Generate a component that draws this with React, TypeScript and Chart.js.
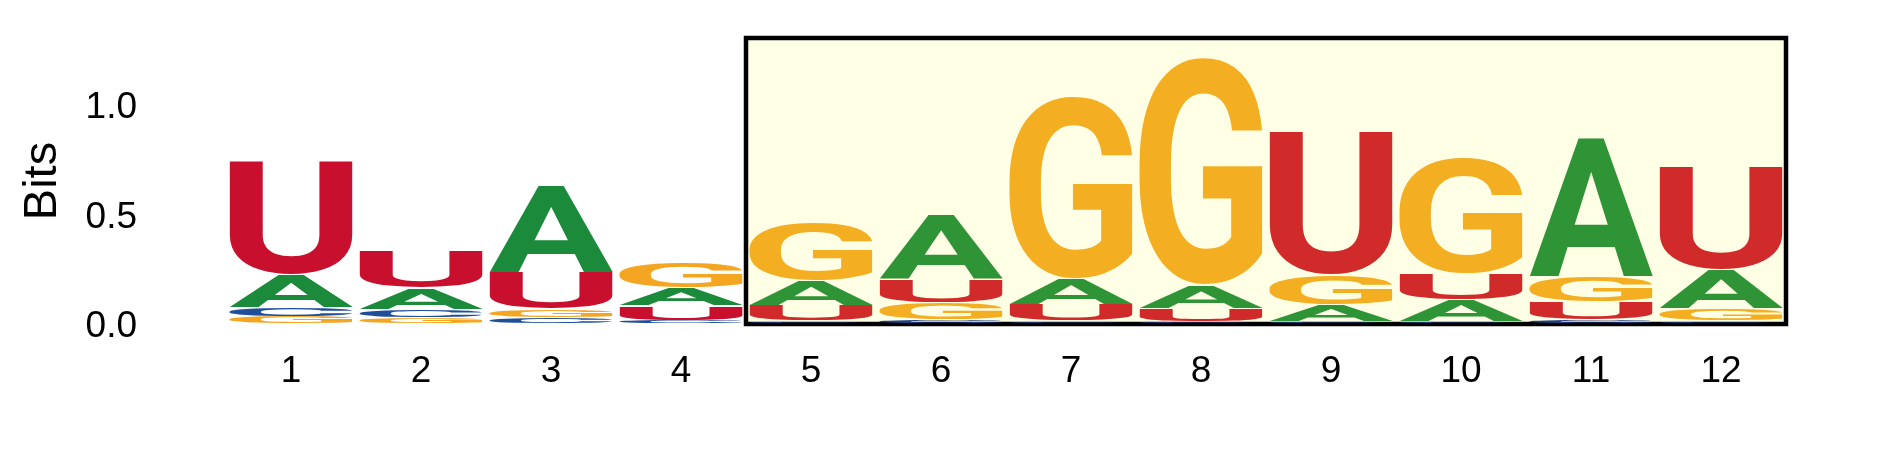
import React, { useEffect, useRef } from 'react';
import { Chart, registerables } from 'chart.js';

Chart.register(...registerables);

// ---- data (bits per nucleotide at each position) ----
const POSITIONS = ['1', '2', '3', '4', '5', '6', '7', '8', '9', '10', '11', '12'];
const BITS_A = [0.151, 0.096, 0.397, 0.082, 0.114, 0.293, 0.118, 0.110, 0.077, 0.100, 0.634, 0.179];
const BITS_C = [0.041, 0.037, 0.027, 0.014, 0.012, 0.015, 0.012, 0.010, 0.010, 0.010, 0.015, 0.012];
const BITS_G = [0.032, 0.027, 0.037, 0.115, 0.265, 0.081, 0.836, 1.041, 0.137, 0.535, 0.115, 0.056];
const BITS_U = [0.520, 0.169, 0.169, 0.068, 0.070, 0.109, 0.075, 0.058, 0.653, 0.118, 0.085, 0.470];
const Y_TICKS = [0, 0.5, 1.0];
const Y_MAX = 1.306;
const HIGHLIGHT_FROM = 5;
const HIGHLIGHT_TO = 12;
const AXIS_TITLE = 'Bits';

const COLORS_OUT: Record<string, string> = { A: '#1B8A3A', C: '#1F4E9A', G: '#F4A623', U: '#C8102E' };
const COLORS_IN: Record<string, string> = { A: '#2F9436', C: '#1F3F80', G: '#F4AE22', U: '#D02A2A' };

const FONT = "'Liberation Sans', Arial, Helvetica, sans-serif";
const LOGO_FONT = "bold 200px Roboto, 'Liberation Sans', sans-serif";

const LETTERS = [
  { ch: 'A', vals: BITS_A },
  { ch: 'C', vals: BITS_C },
  { ch: 'G', vals: BITS_G },
  { ch: 'U', vals: BITS_U },
];

function buildDatasets() {
  const ranked = POSITIONS.map((_, j) =>
    LETTERS.map((l) => ({ ch: l.ch, v: l.vals[j] })).sort((a, b) => a.v - b.v)
  );
  return [0, 1, 2, 3].map((r) => ({
    label: 'rank' + r,
    data: ranked.map((col) => col[r].v),
    letters: ranked.map((col) => col[r].ch),
    backgroundColor: 'rgba(0,0,0,0)',
    borderWidth: 0,
    barPercentage: 0.95,
    categoryPercentage: 1.0,
  }));
}

const highlightPlugin = {
  id: 'highlightBox',
  beforeDatasetsDraw(chart: any) {
    const xs = chart.scales.x;
    const ys = chart.scales.y;
    const half = (xs.getPixelForValue(1) - xs.getPixelForValue(0)) / 2;
    const left = xs.getPixelForValue(HIGHLIGHT_FROM - 1) - half;
    const right = xs.getPixelForValue(HIGHLIGHT_TO - 1) + half;
    const top = ys.getPixelForValue(Y_MAX);
    const bottom = ys.getPixelForValue(0);
    const ctx = chart.ctx;
    ctx.save();
    ctx.fillStyle = '#FFFFE5';
    ctx.fillRect(left, top, right - left, bottom - top);
    ctx.lineWidth = 4.5;
    ctx.strokeStyle = '#000';
    ctx.strokeRect(left, top, right - left, bottom - top);
    ctx.restore();
  },
};

const letterPlugin = {
  id: 'logoLetters',
  afterDatasetsDraw(chart: any) {
    const ctx = chart.ctx;
    ctx.save();
    ctx.font = LOGO_FONT;
    ctx.textAlign = 'left';
    ctx.textBaseline = 'alphabetic';
    chart.data.datasets.forEach((ds: any, di: number) => {
      const meta = chart.getDatasetMeta(di);
      meta.data.forEach((bar: any, j: number) => {
        const ch = ds.letters[j];
        const top = Math.min(bar.y, bar.base);
        const h = Math.abs(bar.base - bar.y) - 1;
        if (h < 0.3) return;
        const w = bar.width;
        const left = bar.x - w / 2;
        const m = ctx.measureText(ch);
        const gw = m.actualBoundingBoxLeft + m.actualBoundingBoxRight;
        const gh = m.actualBoundingBoxAscent + m.actualBoundingBoxDescent;
        const inside = j + 1 >= HIGHLIGHT_FROM && j + 1 <= HIGHLIGHT_TO;
        ctx.fillStyle = (inside ? COLORS_IN : COLORS_OUT)[ch];
        ctx.save();
        ctx.translate(left, top);
        ctx.scale(w / gw, h / gh);
        ctx.fillText(ch, m.actualBoundingBoxLeft, m.actualBoundingBoxAscent);
        ctx.restore();
      });
    });
    ctx.restore();
  },
};

export default function App() {
  const ref = useRef<HTMLCanvasElement | null>(null);
  useEffect(() => {
    document.body.style.margin = '0';
    if (!ref.current) return;
    Chart.defaults.font.family = FONT;
    const chart = new Chart(ref.current, {
      type: 'bar',
      data: { labels: POSITIONS, datasets: buildDatasets() as any },
      options: {
        animation: false,
        responsive: false,
        devicePixelRatio: 1,
        layout: { padding: { left: 0, right: 103, top: 38, bottom: 0 } },
        plugins: { legend: { display: false }, tooltip: { enabled: false } },
        scales: {
          x: {
            stacked: true,
            grid: { display: false, drawTicks: false },
            border: { display: false },
            ticks: { color: '#000', font: { size: 37 }, padding: 26, maxRotation: 0 },
            afterFit(scale: any) {
              scale.height = 472 - 324;
              scale.paddingLeft = 0;
              scale.paddingRight = 0;
            },
          },
          y: {
            stacked: true,
            min: 0,
            max: Y_MAX,
            grid: { display: false, drawTicks: false },
            border: { display: false },
            ticks: {
              color: '#000',
              font: { size: 37 },
              padding: 89,
              labelOffset: 3,
              callback: (v: any) => Number(v).toFixed(1),
            },
            afterBuildTicks(scale: any) {
              scale.ticks = Y_TICKS.map((v) => ({ value: v }));
            },
            title: {
              display: true,
              text: AXIS_TITLE,
              color: '#000',
              font: { size: 47 },
              padding: { top: 15, bottom: 0 },
            },
            afterFit(scale: any) {
              scale.width = 226;
              scale.paddingTop = 0;
              scale.paddingBottom = 0;
            },
          },
        },
      },
      plugins: [highlightPlugin, letterPlugin],
    });
    return () => chart.destroy();
  }, []);
  return (
    <div style={{ width: 1889, height: 472, background: '#fff' }}>
      <canvas ref={ref} width={1889} height={472} style={{ display: 'block' }} />
    </div>
  );
}
